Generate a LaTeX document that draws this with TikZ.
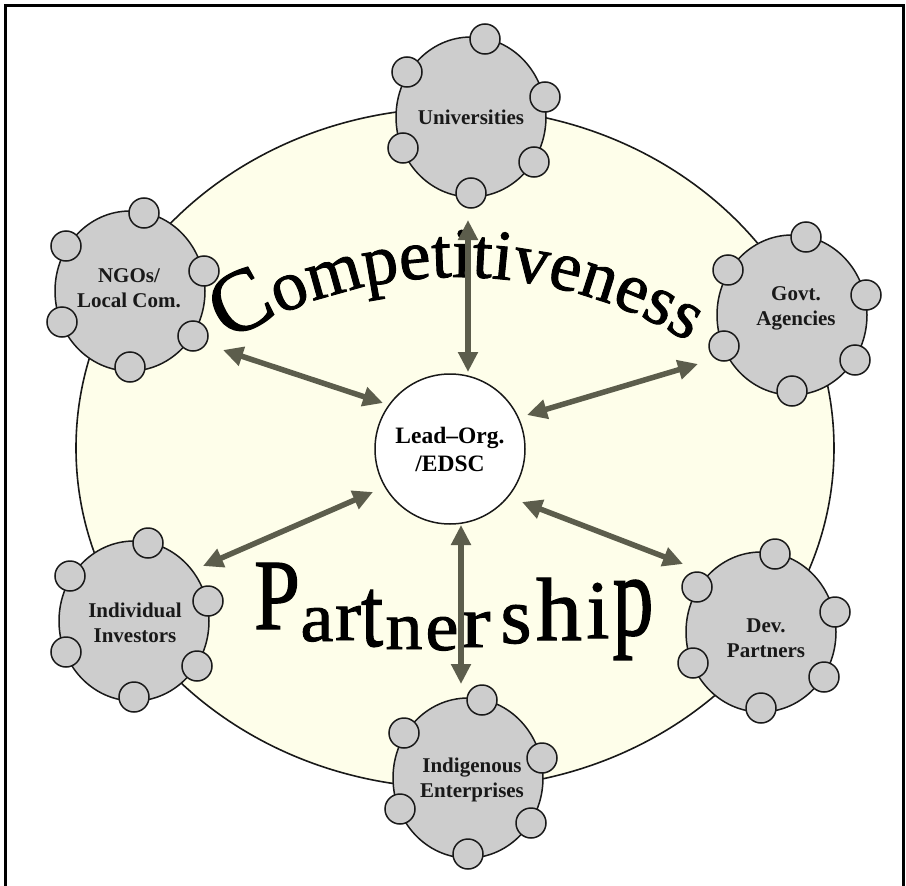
\documentclass[tikz,border=0pt]{standalone}
\usepackage{fontspec}
\usepackage{graphicx}
\setmainfont{Liberation Serif}
\newfontfamily\wordfont[FakeBold=1.3]{Liberation Serif}
\usetikzlibrary{arrows.meta,calc,shapes.geometric,decorations.text}

\definecolor{creamfill}{RGB}{254,254,234}
\definecolor{satgray}{RGB}{205,205,205}
\definecolor{linkcol}{RGB}{92,93,76}
\definecolor{rimcol}{RGB}{25,25,25}

\newcommand\cwbig{\wordfont\fontsize{88}{88}\selectfont}
\newcommand\cwreg{\wordfont\fontsize{71}{71}\selectfont}

\begin{document}
\begin{tikzpicture}[x=1pt,y=-1pt,
  satellite/.style={ellipse, draw=rimcol, line width=1.5pt, fill=satgray,
    minimum width=150pt, minimum height=160pt, inner sep=0pt},
  bead/.style={draw=rimcol, line width=1.5pt, fill=satgray},
  satlabel/.style={font=\fontsize{21}{25}\selectfont\bfseries, align=center,
    text=black!90, inner sep=0pt},
  hubnode/.style={circle, draw=rimcol, line width=1.5pt, fill=white,
    minimum size=150pt, inner sep=0pt,
    font=\fontsize{23.5}{28}\selectfont\bfseries, align=center},
  link/.style={draw=linkcol, line width=5.5pt,
    arrows={Triangle[length=20pt,width=19pt]-Triangle[length=20pt,width=19pt]}},
  bigword/.style={inner sep=0pt, anchor=base, text=black}
]
\useasboundingbox (0,0) rectangle (906,886);
\fill[white] (0,0) rectangle (906,886);

% page frame (open at the bottom)
\draw[line width=3pt, line cap=rect] (5,886) -- (5,5) -- (903,5) -- (903,886);

% partnership field
\draw[draw=rimcol, line width=1.6pt, fill=creamfill]
  (455,448) ellipse [x radius=379pt, y radius=340pt];

% central organisation
\node[hubnode] (hub) at (450,449) {Lead--Org.\\/EDSC};

% arched word across the top
\coordinate (arcc) at (458,717);
\path[decorate, decoration={text along path, text align=center,
    text={|\cwbig|C|\cwreg|ompetitiveness}}]
  ($(arcc)+(-130:440)$) arc[start angle=130, end angle=50, radius=440pt];

% warped word across the bottom
\foreach \ch/\cx/\by/\w/\h [count=\i] in {P/277/629/46/66, a/317/641/33/33,
    r/348/640/26/34, t/372/646/22/56, n/404/649/37/32, e/442/650/33/33,
    r/476/647/29/35, s/516/643/31/38, h/559/640/46/62, i/598/638/23/55,
    p/633/635/41/55}
  \node[bigword] (pw\i) at (\cx,\by) {\resizebox{\w pt}{\h pt}{\wordfont \ch}};

% link end points
\coordinate (uni-a) at (468,220);  \coordinate (uni-b) at (468,372);
\coordinate (ngo-a) at (223,350);  \coordinate (ngo-b) at (383,403);
\coordinate (gov-a) at (698,364);  \coordinate (gov-b) at (527,415);
\coordinate (inv-a) at (203,566);  \coordinate (inv-b) at (373,492);
\coordinate (dev-a) at (683,564);  \coordinate (dev-b) at (522,502);
\coordinate (ent-a) at (461,684);  \coordinate (ent-b) at (461,525);

\foreach \s in {uni,ngo,gov,inv,dev,ent}
  \draw[link] (\s-a) -- (\s-b);

% partner groups
\node[satellite] (uni) at (471,117) {};
\node[satellite] (ngo) at (130,291) {};
\node[satellite] (gov) at (792,315) {};
\node[satellite] (inv) at (134,621) {};
\node[satellite] (dev) at (761,632) {};
\node[satellite] (ent) at (468,778) {};

\foreach \s in {uni,ngo,gov,inv,dev,ent}
  \foreach \dx/\dy in {14/-78,-64/-45,74/-20,-68/31,63/45,0/76}
    \draw[bead] ($(\s)+(\dx,\dy)$) circle[radius=15pt];

\node[satlabel] (uni-t) at (471,117) {Universities};
\node[satlabel] (ngo-t) at (129,288) {NGOs/\\Local Com.};
\node[satlabel] (gov-t) at (796,308) {Govt.\\Agencies};
\node[satlabel] (inv-t) at (135,623) {Individual\\Investors};
\node[satlabel] (dev-t) at (766,638) {Dev.\\Partners};
\node[satlabel] (ent-t) at (472,780) {Indigenous\\Enterprises};
\end{tikzpicture}
\end{document}
